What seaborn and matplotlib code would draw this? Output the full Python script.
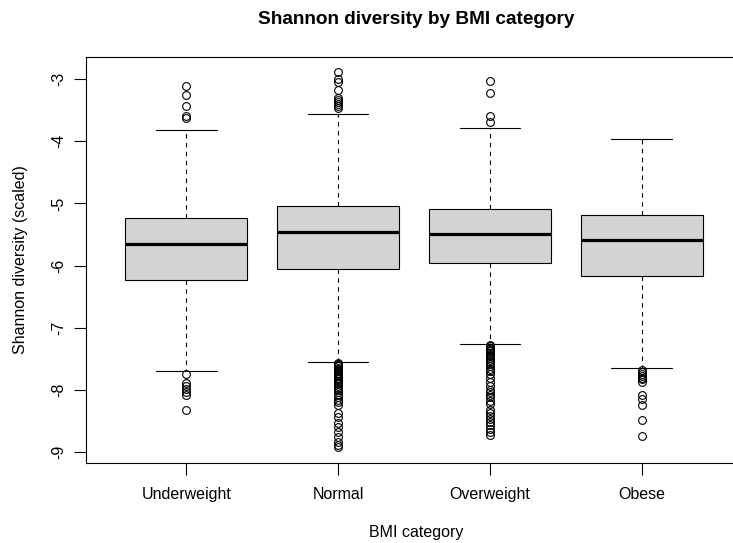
import matplotlib
matplotlib.use("Agg")
import matplotlib.pyplot as plt
import seaborn as sns

# BMI groups and their five-number summaries (Shannon diversity, scaled)
categories = ["Underweight", "Normal", "Overweight", "Obese"]
whisker_low = [-7.69, -7.55, -7.26, -7.65]
q1 = [-6.23, -6.05, -5.96, -6.17]
median = [-5.65, -5.46, -5.49, -5.59]
q3 = [-5.235, -5.04, -5.09, -5.19]
whisker_high = [-3.82, -3.56, -3.79, -3.96]

# Points beyond the whiskers
outliers_underweight = [-3.11, -3.25, -3.43, -3.59, -3.62,
                        -7.75, -7.89, -7.93, -7.99, -8.04, -8.08, -8.32]
outliers_normal = [-2.88, -3.00, -3.04, -3.17, -3.31, -3.34, -3.37, -3.40, -3.43, -3.46,
                   -7.56, -7.58, -7.60, -7.62, -7.64, -7.66, -7.68, -7.70, -7.72, -7.74,
                   -7.76, -7.78, -7.80, -7.83, -7.86, -7.88, -7.91, -7.94, -7.97, -8.00,
                   -8.04, -8.08, -8.12, -8.16, -8.19, -8.24, -8.37, -8.43, -8.53, -8.59,
                   -8.67, -8.75, -8.83, -8.88, -8.92]
outliers_overweight = [-3.03, -3.22, -3.59, -3.69,
                       -7.28, -7.30, -7.32, -7.34, -7.36, -7.38, -7.40, -7.43, -7.46,
                       -7.49, -7.52, -7.55, -7.58, -7.62, -7.66, -7.70, -7.74, -7.80,
                       -7.87, -7.93, -8.00, -8.04, -8.08, -8.12, -8.17, -8.22, -8.32,
                       -8.37, -8.42, -8.47, -8.52, -8.57, -8.62, -8.67, -8.73]
outliers_obese = [-7.68, -7.71, -7.74, -7.77, -7.80, -7.83, -7.87,
                  -8.08, -8.14, -8.24, -8.48, -8.74]
outliers = [outliers_underweight, outliers_normal, outliers_overweight, outliers_obese]

y_ticks = [-3, -4, -5, -6, -7, -8, -9]
y_tick_labels = ["-3", "-4", "-5", "-6", "-7", "-8", "-9"]

sns.set_style("white")
plt.rcParams["font.family"] = ["Liberation Sans", "DejaVu Sans"]
plt.rcParams["axes.unicode_minus"] = False
plt.rcParams["text.color"] = "black"
plt.rcParams["xtick.color"] = "black"
plt.rcParams["ytick.color"] = "black"
plt.rcParams["xtick.labelcolor"] = "black"
plt.rcParams["ytick.labelcolor"] = "black"

fig = plt.figure(figsize=(7.33, 5.43), dpi=100)
W, H = 733, 543
left, right, top, bottom = 86, 742, 57, 463
ax = fig.add_axes([left / W, 1 - bottom / H, (right - left) / W, (bottom - top) / H])

stats = []
for i, name in enumerate(categories):
    stats.append(dict(label=name, whislo=whisker_low[i], q1=q1[i], med=median[i],
                      q3=q3[i], whishi=whisker_high[i], fliers=outliers[i]))

positions = list(range(1, len(categories) + 1))
ax.bxp(stats, positions=positions, widths=0.8, capwidths=0.4, patch_artist=True,
       boxprops=dict(facecolor="#D3D3D3", edgecolor="black", linewidth=0.8),
       medianprops=dict(color="black", linewidth=2.3, solid_capstyle="butt"),
       whiskerprops=dict(color="black", linewidth=0.8, linestyle=(0, (4, 4))),
       capprops=dict(color="black", linewidth=0.8),
       flierprops=dict(marker="o", markerfacecolor="none", markeredgecolor="black",
                       markersize=5.6, markeredgewidth=0.8, linestyle="none"))

ax.set_xlim(0.34, 4.66)
ax.set_ylim(-9.174, -2.646)
ax.set_xticks(positions)
ax.set_xticklabels(categories, fontsize=11.5, color="black")
ax.set_yticks(y_ticks)
ax.set_yticklabels(y_tick_labels, fontsize=11.5, rotation=90, va="center", color="black")
ax.tick_params(axis="both", direction="out", length=8.5, width=0.8, color="black",
               left=True, bottom=True)
ax.tick_params(axis="x", pad=9)
ax.tick_params(axis="y", pad=6)
for s in ax.spines.values():
    s.set_color("black")
    s.set_linewidth(0.8)
    s.set_visible(True)
ax.grid(False)

fig.text(416 / W, 1 - 20 / H, "Shannon diversity by BMI category", ha="center",
         va="center", fontsize=13.7, fontweight="bold", color="black")
fig.text(416 / W, 1 - 532 / H, "BMI category", ha="center", va="center", fontsize=11.5,
         color="black")
fig.text(21 / W, 1 - 260 / H, "Shannon diversity (scaled)", ha="center", va="center",
         rotation=90, fontsize=11.5, color="black")

fig.savefig("out.png", dpi=100)
